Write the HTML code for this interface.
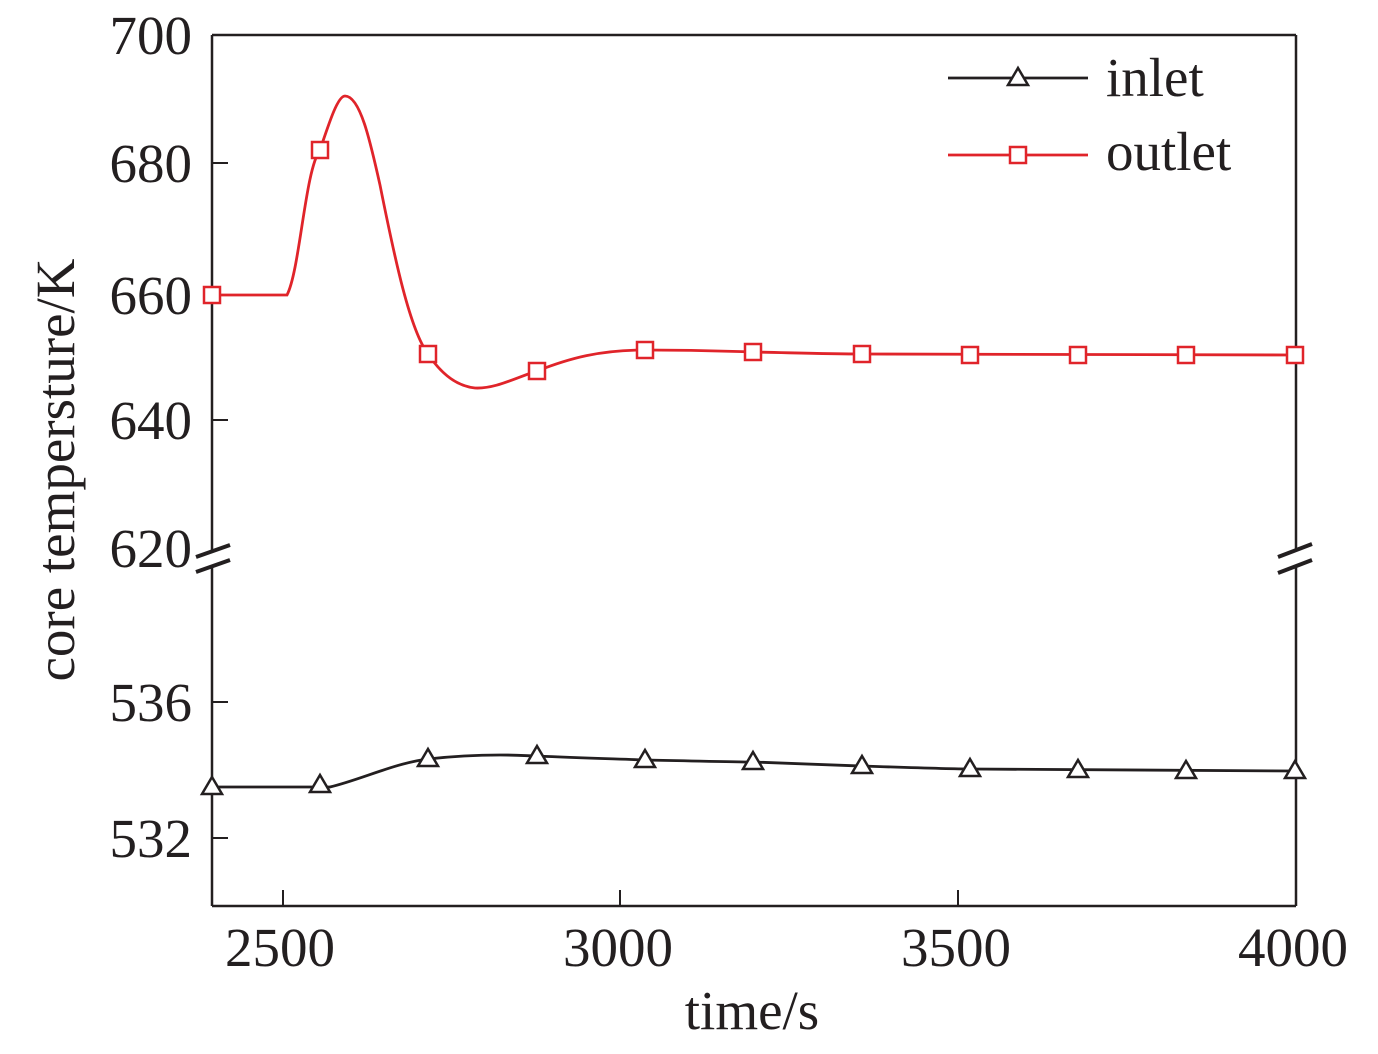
<!DOCTYPE html>
<html><head><style>body{margin:0;background:#fff}</style></head><body>
<svg width="1378" height="1049" xmlns="http://www.w3.org/2000/svg" font-family="Liberation Serif, serif" fill="none">
<g stroke="#231f20" stroke-width="2.5">
<line x1="212" y1="35" x2="1296" y2="35"/>
<line x1="212" y1="906" x2="1296" y2="906"/>
<line x1="212" y1="35" x2="212" y2="550"/>
<line x1="212" y1="567" x2="212" y2="906"/>
<line x1="1296" y1="35" x2="1296" y2="550"/>
<line x1="1296" y1="567" x2="1296" y2="906"/>
</g>
<g stroke="#231f20" stroke-width="4">
<line x1="196" y1="557" x2="230" y2="545"/><line x1="196" y1="572" x2="230" y2="560"/>
<line x1="1278" y1="557" x2="1312" y2="544"/><line x1="1278" y1="573" x2="1312" y2="560"/>
</g>
<g stroke="#231f20" stroke-width="2">
<line x1="212" y1="163" x2="228" y2="163"/><line x1="212" y1="295" x2="228" y2="295"/><line x1="212" y1="420" x2="228" y2="420"/>
<line x1="212" y1="702" x2="228" y2="702"/><line x1="212" y1="838" x2="228" y2="838"/>
<line x1="283" y1="906" x2="283" y2="890"/><line x1="620" y1="906" x2="620" y2="890"/><line x1="958" y1="906" x2="958" y2="890"/>
</g>
<g fill="#231f20" font-size="55" text-anchor="end">
<text x="192" y="54">700</text><text x="192" y="182">680</text><text x="192" y="314">660</text><text x="192" y="439">640</text><text x="192" y="567">620</text>
<text x="192" y="721">536</text><text x="192" y="857">532</text>
</g>
<g fill="#231f20" font-size="55" text-anchor="middle">
<text x="280" y="966">2500</text><text x="618" y="966">3000</text><text x="956" y="966">3500</text><text x="1293" y="966">4000</text>
<text x="752" y="1029">time/s</text>
<text transform="translate(74,470) rotate(-90)">core tempersture/K</text>
</g>
<path stroke="#e0242a" stroke-width="2.8" d="M212,295 L287,295 C300,270 305,170 320,150 C330,120 338,96 345,96 C360,96 370,140 380,185 C395,260 410,330 428,354 C440,372 455,386 475,388 C495,389 515,378 537,371 C570,358 600,350 645,350 C700,350 720,351 753,352 C800,353 830,354 862,354 C950,355 1100,355 1295,355"/>
<path stroke="#231f20" stroke-width="2.8" d="M212,787 L330,787 C360,780 395,763 428,759 C455,756 480,755 500,755 C520,755 530,756 537,756 C580,758 620,759 645,760 C700,761 730,762 753,762 C800,764 830,765 862,766 C920,768 950,769 970,769 C1050,770 1150,771 1295,771"/>
<g stroke="#e0242a" stroke-width="2.5" fill="#fff">
<rect x="204" y="287" width="16" height="16"/><rect x="312" y="142" width="16" height="16"/><rect x="420" y="346" width="16" height="16"/><rect x="529" y="363" width="16" height="16"/><rect x="637" y="342" width="16" height="16"/><rect x="745" y="344" width="16" height="16"/><rect x="854" y="346" width="16" height="16"/><rect x="962" y="347" width="16" height="16"/><rect x="1070" y="347" width="16" height="16"/><rect x="1178" y="347" width="16" height="16"/><rect x="1287" y="347" width="16" height="16"/>
</g>
<g stroke="#231f20" stroke-width="2.5" fill="#fff">
<path d="M212,777 l10,17 h-20z"/><path d="M320,775 l10,17 h-20z"/><path d="M428,749 l10,17 h-20z"/><path d="M537,746 l10,17 h-20z"/><path d="M645,750 l10,17 h-20z"/><path d="M753,752 l10,17 h-20z"/><path d="M862,756 l10,17 h-20z"/><path d="M970,759 l10,17 h-20z"/><path d="M1078,760 l10,17 h-20z"/><path d="M1186,761 l10,17 h-20z"/><path d="M1295,761 l10,17 h-20z"/>
</g>
<line x1="948" y1="78" x2="1088" y2="78" stroke="#231f20" stroke-width="2.8"/>
<path d="M1018,68 l10,17 h-20z" stroke="#231f20" stroke-width="2.5" fill="#fff"/>
<line x1="948" y1="155" x2="1088" y2="155" stroke="#e0242a" stroke-width="2.8"/>
<rect x="1010" y="147" width="16" height="16" stroke="#e0242a" stroke-width="2.5" fill="#fff"/>
<g fill="#231f20" font-size="55"><text x="1106" y="96">inlet</text><text x="1106" y="170">outlet</text></g>
</svg>
</body></html>
